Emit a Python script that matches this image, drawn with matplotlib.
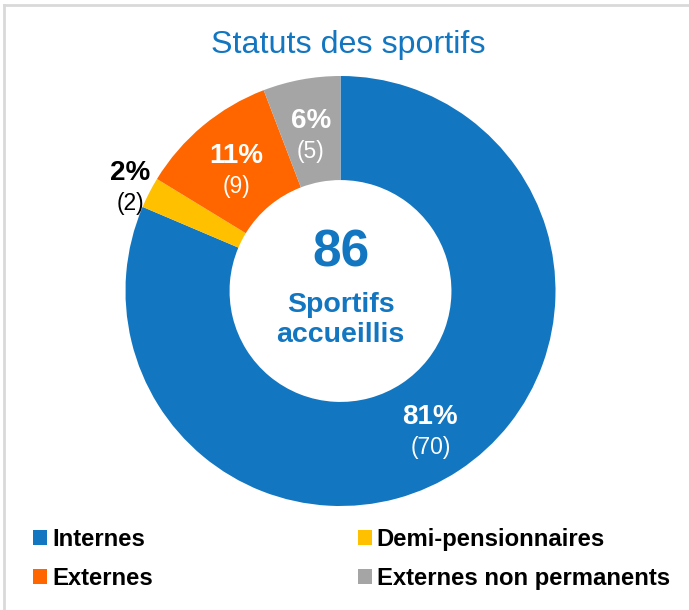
import matplotlib
matplotlib.use("Agg")
import matplotlib.pyplot as plt
import matplotlib.transforms as mtransforms
from matplotlib.lines import Line2D
import numpy as np

plt.rcParams['font.family'] = ['Liberation Sans', 'DejaVu Sans']

categories = ["Internes", "Demi-pensionnaires", "Externes", "Externes non permanents"]
counts = [70, 2, 9, 5]
percents = [81, 2, 11, 6]
colors = ["#1276C0", "#FFC000", "#FF6600", "#A5A5A5"]
total = 86
title = "Statuts des sportifs"
center_label = "Sportifs\naccueillis"

W, H = 689, 610
fig = plt.figure(figsize=(W / 100, H / 100), dpi=100)
fig.patch.set_facecolor("white")

# border (top and left only, as cropped)
fig.add_artist(Line2D([4 / W, 1], [1 - 5 / H, 1 - 5 / H], color="#D9D9D9", lw=2))
fig.add_artist(Line2D([4 / W, 4 / W], [0, 1 - 5 / H], color="#D9D9D9", lw=2))

cx, cy, R = 340.5, 291, 215
ax = fig.add_axes([(cx - R) / W, (H - cy - R) / H, 2 * R / W, 2 * R / H])
inner = 0.516
wedges, _ = ax.pie(counts, colors=colors, startangle=90, counterclock=False,
                   radius=1, wedgeprops=dict(width=1 - inner, linewidth=0))
ax.set_xlim(-1, 1)
ax.set_ylim(-1, 1)
ax.set_aspect("equal")
ax.axis("off")

label_colors = ["white", "black", "white", "white"]
for i, w in enumerate(wedges):
    ang = np.deg2rad((w.theta1 + w.theta2) / 2)
    r = 1.10 if i == 1 else (inner + 1) / 2
    x, y = r * np.cos(ang), r * np.sin(ang)
    t_up = mtransforms.offset_copy(ax.transData, fig=fig, x=0, y=10, units='dots')
    t_dn = mtransforms.offset_copy(ax.transData, fig=fig, x=0, y=-21, units='dots')
    ax.text(x, y, f"{percents[i]}%", transform=t_up, ha="center", va="center",
            fontsize=20, fontweight="bold", color=label_colors[i])
    ax.text(x, y, f"({counts[i]})", transform=t_dn, ha="center", va="center",
            fontsize=16.5, color=label_colors[i])

ax.text(0, 0.175, f"{total}", ha="center", va="center", fontsize=37,
        fontweight="bold", color="#1276C0")
ax.text(0, -0.135, center_label, ha="center", va="center", fontsize=20.5,
        fontweight="bold", color="#1276C0", linespacing=1.2)

fig.text(348 / W, 1 - 45 / H, title, ha="center", va="center", fontsize=23.2,
         color="#1276C0")

order = [0, 2, 1, 3]
leg = fig.legend([wedges[i] for i in order], [categories[i] for i in order],
                 loc="upper left",
                 bbox_to_anchor=(33 / W, 1 - 528 / H), ncol=2, frameon=False,
                 prop=dict(weight="bold", size=17.2), handlelength=0.6,
                 handleheight=0.6, handletextpad=0.2, columnspacing=8.57,
                 labelspacing=0.68, borderaxespad=0, borderpad=0)

fig.savefig("out.png", dpi=100, facecolor="white")
